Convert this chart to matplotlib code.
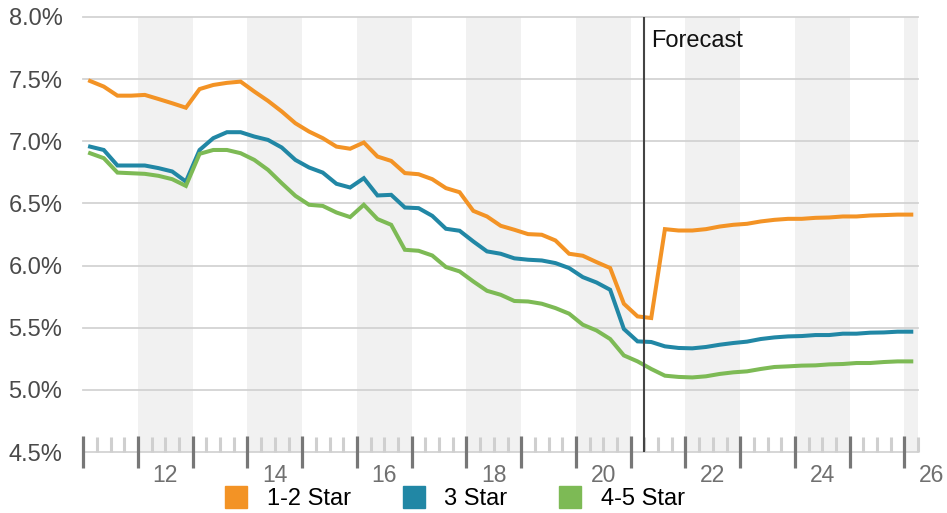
import numpy as np
import matplotlib.pyplot as plt
from matplotlib.lines import Line2D

plt.rcParams['font.family'] = ['Liberation Sans', 'DejaVu Sans']

# quarterly series, first point is Q1 2011 (plotted mid-quarter)
start_year = 2011
star_1_2 = [7.485, 7.44, 7.367, 7.367, 7.373, 7.34, 7.306, 7.27, 7.42, 7.453,
            7.47, 7.48, 7.40, 7.325, 7.24, 7.145, 7.078, 7.025, 6.957, 6.94,
            6.99, 6.877, 6.842, 6.744, 6.735, 6.695, 6.623, 6.59, 6.44, 6.395,
            6.32, 6.288, 6.253, 6.248, 6.202, 6.095, 6.079, 6.028, 5.98, 5.693,
            5.591, 5.578, 6.293, 6.282, 6.282, 6.293, 6.314, 6.328, 6.336, 6.355,
            6.368, 6.376, 6.376, 6.384, 6.387, 6.395, 6.395, 6.403, 6.406, 6.41,
            6.41]
star_3 = [6.957, 6.93, 6.805, 6.805, 6.805, 6.784, 6.757, 6.676, 6.93, 7.025,
          7.073, 7.073, 7.038, 7.011, 6.95, 6.85, 6.789, 6.748, 6.658, 6.628,
          6.703, 6.564, 6.569, 6.467, 6.462, 6.40, 6.296, 6.28, 6.194, 6.114,
          6.095, 6.058, 6.047, 6.041, 6.02, 5.98, 5.907, 5.864, 5.805, 5.49,
          5.39, 5.385, 5.35, 5.337, 5.334, 5.345, 5.363, 5.377, 5.388, 5.409,
          5.422, 5.43, 5.433, 5.441, 5.441, 5.452, 5.452, 5.46, 5.462, 5.468,
          5.468]
star_4_5 = [6.904, 6.864, 6.748, 6.743, 6.738, 6.722, 6.695, 6.641, 6.899, 6.93,
            6.93, 6.904, 6.85, 6.77, 6.663, 6.561, 6.489, 6.48, 6.427, 6.39,
            6.489, 6.374, 6.328, 6.127, 6.119, 6.081, 5.988, 5.953, 5.872, 5.797,
            5.765, 5.715, 5.711, 5.693, 5.658, 5.613, 5.524, 5.478, 5.409, 5.277,
            5.229, 5.168, 5.114, 5.104, 5.10, 5.109, 5.128, 5.141, 5.149, 5.168,
            5.184, 5.189, 5.195, 5.197, 5.205, 5.208, 5.216, 5.216, 5.224, 5.229,
            5.229]
series_names = ['1-2 Star', '3 Star', '4-5 Star']
colors = ['#F39325', '#2187A5', '#7DBA55']
forecast_start = 2021.25
y_ticks = [4.5, 5.0, 5.5, 6.0, 6.5, 7.0, 7.5, 8.0]
year_labels = [2012, 2014, 2016, 2018, 2020, 2022, 2024, 2026]

x = start_year + 0.125 + 0.25 * np.arange(len(star_1_2))

fig = plt.figure(figsize=(9.47, 5.13), dpi=100)
ax = fig.add_axes([0.0879, 0.1189, 0.8816, 0.848])

x_min, x_max = 2011, 2026.25
ax.set_xlim(x_min, x_max)
ax.set_ylim(4.5, 8.0)

# alternating year shading
for yr in range(2012, 2027, 2):
    ax.axvspan(yr, min(yr + 1, x_max), color='#f1f1f1', lw=0, zorder=0)

for v in y_ticks:
    ax.axhline(v, color='#d3d3d3', lw=1.3, zorder=1, clip_on=False)

for vals, c in zip([star_1_2, star_3, star_4_5], colors):
    ax.plot(x, vals, color=c, lw=2.9, zorder=3, solid_joinstyle='miter')

ax.axvline(forecast_start, color='#444444', lw=1.5, zorder=4)
ax.text(forecast_start + 0.125, 0.931, 'Forecast', transform=ax.get_xaxis_transform(),
        fontsize=17, color='#111111', ha='left', va='baseline')

for s in ax.spines.values():
    s.set_visible(False)

ax.set_yticks(y_ticks)
ax.set_yticklabels([f'{v:.1f}%' for v in y_ticks])
ax.tick_params(axis='y', length=0, pad=15, labelsize=17, labelcolor='#4a4a4a')

ax.set_xticks(np.arange(2011, 2027))
ax.set_xticks([q for q in np.arange(2011, 2026.26, 0.25) if q % 1 != 0], minor=True)
ax.set_xticklabels([])
ax.tick_params(axis='x', which='major', direction='inout', length=23, width=2.3,
               color='#777777')
ax.tick_params(axis='x', which='minor', direction='in', length=11, width=2.2,
               color='#cfcfcf')

for yr in year_labels:
    ax.annotate(str(yr % 100), xy=(yr + 0.5, 0), xycoords=('data', 'axes fraction'),
                xytext=(0, -17), textcoords='offset points', ha='center', va='center',
                fontsize=16.5, color='#707070', annotation_clip=False)

handles = [Line2D([], [], ls='none', marker='s', ms=16.5, mfc=c, mec=c) for c in colors]
fig.legend(handles, series_names, loc='center', bbox_to_anchor=(0.48, 0.027),
           ncol=3, frameon=False, fontsize=17, handlelength=1.0, handletextpad=0.8,
           columnspacing=2.16, borderpad=0)

fig.savefig('out.png', dpi=100)
